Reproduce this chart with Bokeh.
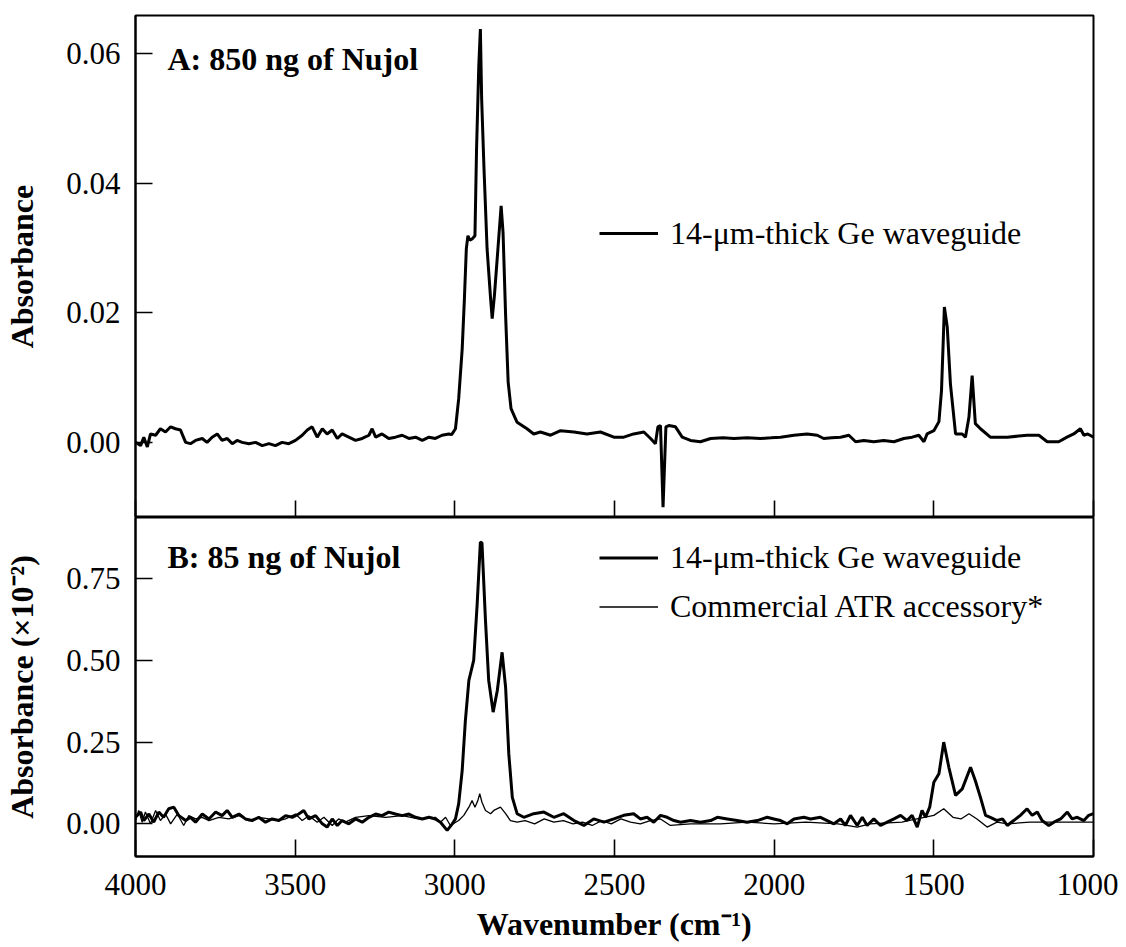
from bokeh.plotting import figure
from bokeh.layouts import column
from bokeh.models import (Range1d, FixedTicker, PrintfTickFormatter, Legend,
                          LegendItem, Label, CustomLabelingPolicy)
from bokeh.embed import file_html
from bokeh.resources import INLINE

# ---------------- data ----------------
# Panel A: 850 ng Nujol, 14-um Ge waveguide
wn_a = [4000, 3984, 3974, 3963, 3953, 3937, 3922, 3906, 3890, 3875, 3859, 3843,
        3828, 3812, 3791, 3776, 3760, 3744, 3729, 3713, 3697, 3682, 3666, 3645,
        3624, 3603, 3582, 3562, 3541, 3520, 3499, 3478, 3462, 3447, 3431, 3415,
        3400, 3384, 3368, 3353, 3332, 3311, 3290, 3269, 3259, 3248, 3228, 3207,
        3186, 3165, 3144, 3123, 3102, 3081, 3061, 3040, 3019, 3010, 2998, 2988,
        2977, 2970, 2964, 2959, 2953, 2946, 2937, 2932, 2925, 2920, 2916, 2909,
        2899, 2888, 2883, 2876, 2865, 2855, 2849, 2841, 2833, 2824, 2805, 2774,
        2753, 2732, 2700, 2669, 2627, 2586, 2544, 2502, 2471, 2440, 2408, 2387,
        2372, 2364, 2356, 2348, 2339, 2330, 2309, 2288, 2262, 2231, 2199, 2160,
        2126, 2085, 2043, 2010, 1980, 1938, 1897, 1865, 1845, 1820, 1792, 1766,
        1745, 1719, 1688, 1657, 1625, 1594, 1568, 1547, 1531, 1521, 1500, 1484,
        1476, 1471, 1467, 1458, 1448, 1432, 1411, 1401, 1390, 1380, 1370, 1354,
        1323, 1270, 1208, 1171, 1145, 1109, 1083, 1062, 1041, 1030, 1018, 1000]
abs_a = [0.0000, -0.0005, 0.0008, -0.0007, 0.0013, 0.0011, 0.0021, 0.0016, 0.0024,
         0.0021, 0.0019, 0.0000, -0.0002, 0.0003, 0.0006, 0.0000, 0.0008, 0.0013,
         0.0003, 0.0006, -0.0002, 0.0003, 0.0000, -0.0002, 0.0000, -0.0005, -0.0002,
         -0.0005, 0.0000, -0.0002, 0.0003, 0.0011, 0.0019, 0.0024, 0.0008, 0.0021,
         0.0013, 0.0019, 0.0006, 0.0013, 0.0008, 0.0003, 0.0006, 0.0011, 0.0021,
         0.0008, 0.0013, 0.0006, 0.0008, 0.0011, 0.0006, 0.0008, 0.0003, 0.0008,
         0.0006, 0.0011, 0.0013, 0.0012, 0.0021, 0.0067, 0.0144, 0.0222, 0.0299,
         0.0319, 0.0312, 0.0314, 0.0319, 0.0453, 0.0581, 0.0638, 0.0530, 0.0427,
         0.0299, 0.0222, 0.0191, 0.0227, 0.0299, 0.0365, 0.0324, 0.0196, 0.0093,
         0.0052, 0.0031, 0.0021, 0.0013, 0.0016, 0.0011, 0.0018, 0.0016, 0.0013,
         0.0016, 0.0008, 0.0008, 0.0013, 0.0016, 0.0006, -0.0002, 0.0024, 0.0026,
         -0.0100, 0.0024, 0.0026, 0.0024, 0.0008, 0.0003, 0.0001, 0.0006, 0.0007,
         0.0006, 0.0007, 0.0006, 0.0007, 0.0008, 0.0011, 0.0013, 0.0011, 0.0006,
         0.0007, 0.0008, 0.0011, 0.0001, 0.0003, 0.0001, 0.0003, 0.0001, 0.0006,
         0.0008, 0.0011, 0.0001, 0.0013, 0.0018, 0.0032, 0.0080, 0.0150, 0.0209,
         0.0178, 0.0090, 0.0013, 0.0013, 0.0008, 0.0039, 0.0103, 0.0029, 0.0021,
         0.0008, 0.0008, 0.0011, 0.0011, 0.0001, 0.0001, 0.0008, 0.0013, 0.0021,
         0.0011, 0.0013, 0.0008]

# Panel B: 85 ng Nujol (x 10^-2), Ge waveguide
wn_b_ge = [4000, 3984, 3974, 3958, 3943, 3927, 3912, 3896, 3880, 3864, 3843, 3828,
           3812, 3791, 3770, 3749, 3729, 3713, 3697, 3676, 3656, 3635, 3614, 3593,
           3572, 3551, 3530, 3509, 3489, 3473, 3457, 3436, 3415, 3400, 3384, 3368,
           3353, 3332, 3311, 3290, 3269, 3248, 3228, 3207, 3186, 3165, 3144, 3123,
           3102, 3081, 3061, 3045, 3024, 3008, 2998, 2988, 2977, 2967, 2956, 2941,
           2930, 2920, 2915, 2904, 2894, 2880, 2867, 2852, 2841, 2831, 2820, 2805,
           2784, 2753, 2721, 2690, 2659, 2627, 2596, 2565, 2533, 2502, 2471, 2440,
           2419, 2398, 2377, 2356, 2335, 2314, 2293, 2262, 2231, 2199, 2178, 2147,
           2116, 2085, 2053, 2022, 2001, 1980, 1959, 1938, 1907, 1886, 1855, 1834,
           1813, 1792, 1777, 1761, 1740, 1724, 1709, 1688, 1667, 1646, 1625, 1604,
           1584, 1568, 1552, 1537, 1526, 1513, 1500, 1484, 1469, 1453, 1432, 1411,
           1385, 1370, 1354, 1338, 1323, 1302, 1285, 1270, 1250, 1229, 1208, 1192,
           1176, 1161, 1140, 1124, 1103, 1082, 1067, 1051, 1030, 1015, 1000]
abs_b_ge = [0.020, 0.036, 0.010, 0.030, 0.005, 0.036, 0.020, 0.046, 0.051, 0.025,
            0.010, 0.020, 0.005, 0.030, 0.015, 0.036, 0.025, 0.041, 0.020, 0.030,
            0.015, 0.010, 0.020, 0.005, 0.015, 0.010, 0.025, 0.020, 0.030, 0.041,
            0.015, 0.025, 0.000, -0.010, 0.015, -0.005, 0.010, 0.000, 0.015, 0.005,
            0.020, 0.030, 0.025, 0.036, 0.030, 0.025, 0.030, 0.020, 0.015, 0.020,
            0.015, 0.005, -0.020, 0.000, 0.015, 0.061, 0.163, 0.316, 0.439, 0.500,
            0.673, 0.862, 0.860, 0.622, 0.439, 0.342, 0.408, 0.525, 0.418, 0.214,
            0.081, 0.031, 0.020, 0.031, 0.036, 0.020, 0.031, 0.010, -0.005, 0.015,
            0.005, 0.015, 0.026, 0.031, 0.015, 0.020, 0.005, 0.026, 0.020, 0.010,
            0.005, 0.010, 0.005, 0.010, 0.020, 0.015, 0.010, 0.005, 0.010, 0.020,
            0.015, 0.010, 0.000, 0.015, 0.020, 0.015, 0.020, 0.010, 0.000, 0.015,
            -0.005, 0.026, -0.005, 0.020, -0.005, 0.015, -0.005, 0.005, 0.015, 0.026,
            0.010, 0.026, -0.010, 0.041, 0.020, 0.051, 0.127, 0.153, 0.250, 0.173,
            0.087, 0.107, 0.173, 0.132, 0.081, 0.026, 0.020, 0.010, 0.015, -0.005,
            0.010, 0.026, 0.046, 0.026, 0.036, 0.010, -0.005, 0.005, 0.015, 0.036,
            0.015, 0.020, 0.010, 0.026, 0.031]

# Panel B: commercial ATR accessory
wn_b_atr = [4000, 3990, 3979, 3969, 3953, 3937, 3922, 3906, 3890, 3869, 3849, 3833,
            3812, 3791, 3770, 3739, 3708, 3676, 3645, 3614, 3582, 3551, 3530, 3499,
            3478, 3457, 3431, 3410, 3384, 3364, 3343, 3311, 3269, 3217, 3165, 3113,
            3061, 3045, 3029, 3014, 2988, 2972, 2956, 2946, 2937, 2928, 2922, 2915,
            2904, 2888, 2878, 2857, 2841, 2826, 2805, 2780, 2750, 2720, 2690, 2660,
            2630, 2600, 2570, 2540, 2510, 2480, 2450, 2419, 2388, 2356, 2325, 2262,
            2168, 2085, 2000, 1900, 1800, 1740, 1700, 1600, 1580, 1530, 1500, 1469,
            1440, 1415, 1390, 1365, 1333, 1302, 1270, 1200, 1100, 1000]
abs_b_atr = [0.010, 0.041, 0.005, 0.036, 0.000, 0.041, 0.010, 0.030, 0.000, 0.030,
             -0.005, 0.025, 0.015, 0.020, 0.010, 0.020, 0.015, 0.025, 0.010, 0.020,
             0.015, 0.010, 0.015, 0.030, 0.010, 0.025, 0.005, 0.020, -0.005, 0.015,
             0.005, 0.020, 0.025, 0.020, 0.025, 0.015, 0.020, 0.005, 0.020, -0.005,
             0.010, 0.026, 0.051, 0.071, 0.051, 0.071, 0.092, 0.066, 0.041, 0.031,
             0.041, 0.051, 0.031, 0.010, 0.005, 0.010, 0.000, 0.015, 0.005, 0.010,
             0.000, 0.005, -0.005, 0.010, 0.000, 0.015, 0.005, 0.000, 0.010, 0.015,
             -0.005, 0.000, 0.000, 0.005, 0.000, 0.005, 0.000, -0.010, 0.000, 0.005,
             0.010, 0.020, 0.026, 0.046, 0.020, 0.015, 0.031, 0.015, -0.010, 0.005,
             0.000, 0.005, 0.005, 0.005]

x_ticks = [4000, 3500, 3000, 2500, 2000, 1500, 1000]
y_ticks_a = [0.00, 0.02, 0.04, 0.06]
y_ticks_b = [0.00, 0.25, 0.50, 0.75]

label_a = "A: 850 ng of Nujol"
label_b = "B: 85 ng of Nujol"
series_ge = "14-\u03bcm-thick Ge waveguide"
series_atr = "Commercial ATR accessory*"

FONT = "Liberation Serif"
FS_TICK = "31px"
FS = "32px"

no_labels = CustomLabelingPolicy(
    code="const n = indices.size; for (let i = 0; i < n; i++) { indices.unset(i) } return indices")


def style(p, yticks, ylabel, show_xlabels):
    p.outline_line_color = "black"
    p.outline_line_width = 2
    p.grid.visible = False
    p.background_fill_color = "white"
    p.border_fill_color = "white"
    for ax in (p.xaxis[0], p.yaxis[0]):
        ax.axis_line_width = 2
        ax.major_tick_in = 17
        ax.major_tick_out = 0
        ax.major_tick_line_width = 1.6
        ax.minor_tick_line_color = None
        ax.major_label_text_font = FONT
        ax.major_label_text_font_size = FS_TICK
        ax.major_label_text_color = "black"
        ax.axis_label_text_font = FONT
        ax.axis_label_text_font_size = FS
        ax.axis_label_text_font_style = "bold"
        ax.axis_label_text_color = "black"
    p.xaxis.ticker = FixedTicker(ticks=x_ticks)
    p.yaxis.ticker = FixedTicker(ticks=yticks)
    p.yaxis.formatter = PrintfTickFormatter(format="%.2f")
    p.yaxis.major_label_standoff = 15
    p.yaxis.axis_label = ylabel
    p.yaxis.axis_label_standoff = 23
    if show_xlabels:
        p.xaxis.major_label_standoff = 17
        p.xaxis.axis_label = "Wavenumber (cm\u207b\u00b9)"
        p.xaxis.axis_label_standoff = 8
    else:
        p.xaxis.major_label_text_font_size = "0px"
        p.xaxis.major_label_standoff = 0
        p.xaxis.major_label_policy = no_labels


pa = figure(frame_width=958, frame_height=502,
            x_range=Range1d(4000, 1000), y_range=Range1d(-0.0116, 0.0659),
            output_backend="svg", toolbar_location=None,
            min_border_left=135, min_border_right=25, min_border_top=15,
            min_border_bottom=0)
style(pa, y_ticks_a, "Absorbance", False)
ra = pa.line(wn_a, abs_a, line_color="black", line_width=3)
pa.add_layout(Label(x=3900, y=0.0592, text=label_a, text_font=FONT,
                    text_font_size=FS, text_font_style="bold", text_color="black",
                    text_baseline="alphabetic"))
leg_a = Legend(items=[LegendItem(label=series_ge, renderers=[ra])],
               location=(464, 264), padding=0, margin=0, spacing=0,
               glyph_width=59, glyph_height=40, label_height=40,
               label_standoff=12, label_text_font=FONT, label_text_font_size=FS,
               label_text_color="black",
               border_line_alpha=0, background_fill_alpha=0)
pa.add_layout(leg_a)

pb = figure(frame_width=958, frame_height=339,
            x_range=pa.x_range, y_range=Range1d(-0.10, 0.9376),
            output_backend="svg", toolbar_location=None,
            min_border_left=135, min_border_right=25, min_border_top=0,
            min_border_bottom=0)
style(pb, y_ticks_b, "Absorbance (\u00d710\u207b\u00b2)", True)
rb1 = pb.line(wn_b_ge, abs_b_ge, line_color="black", line_width=3)
rb2 = pb.line(wn_b_atr, abs_b_atr, line_color="black", line_width=1.3)
pb.add_layout(Label(x=3900, y=0.818, text=label_b, text_font=FONT,
                    text_font_size=FS, text_font_style="bold", text_color="black",
                    text_baseline="alphabetic"))
leg_b = Legend(items=[LegendItem(label=series_ge, renderers=[rb1]),
                      LegendItem(label=series_atr, renderers=[rb2])],
               location=(464, 225), padding=0, margin=0, spacing=0,
               glyph_width=59, glyph_height=49, label_height=49,
               label_standoff=12, label_text_font=FONT, label_text_font_size=FS,
               label_text_color="black",
               border_line_alpha=0, background_fill_alpha=0)
pb.add_layout(leg_b)

layout = column(pa, pb, spacing=0)
open("out.html", "w").write(file_html(layout, INLINE))
